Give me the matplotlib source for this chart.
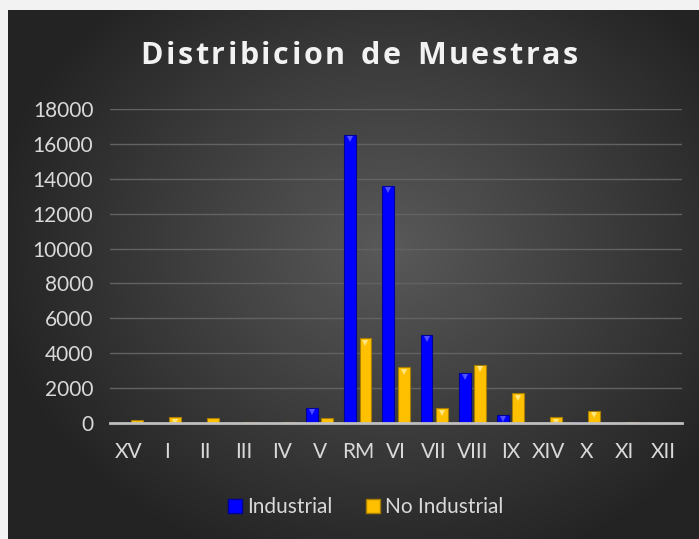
import numpy as np
import matplotlib
matplotlib.use("Agg")
import matplotlib.pyplot as plt
import matplotlib.transforms as mtransforms
from matplotlib.lines import Line2D

# data
regiones = ["XV", "I", "II", "III", "IV", "V", "RM", "VI", "VII", "VIII", "IX", "XIV", "X", "XI", "XII"]
industrial = [0, 0, 0, 0, 0, 880, 16500, 13600, 5030, 2860, 460, 0, 30, 0, 0]
no_industrial = [170, 320, 270, 30, 40, 300, 4850, 3190, 840, 3320, 1700, 320, 690, 30, 10]
yticks = [0, 2000, 4000, 6000, 8000, 10000, 12000, 14000, 16000, 18000]
titulo = "Distribicion de Muestras"

W, H = 699, 539
fig = plt.figure(figsize=(W / 100, H / 100), dpi=100, facecolor="#f2f2f2")

# radial gradient background of the chart area
bg = fig.add_axes([8 / W, 0, 1 - 8 / W, 1 - 10 / H])
bg.set_axis_off()
gx, gy = np.meshgrid(np.linspace(-1, 1, 400), np.linspace(-1, 1, 300))
r = np.sqrt(((gx - 0.1) / 1.1) ** 2 + ((gy + 0.1) / 1.2) ** 2)
shade = np.clip(0.35 - 0.2 * r, 0.14, 0.35)
bg.imshow(np.dstack([shade] * 3), aspect="auto", extent=[0, 1, 0, 1], interpolation="bilinear")

# main axes
ax = fig.add_axes([110 / W, (H - 423) / H, 572 / W, 314 / H])
ax.patch.set_alpha(0)
x = np.arange(len(regiones))
w = 0.31
ax.bar(x - 0.2, industrial, w, color="#0000ff", edgecolor="#00009a", linewidth=0.8, zorder=3)
ax.bar(x + 0.2, no_industrial, w, color="#ffc000", edgecolor="#a87e00", linewidth=0.8, zorder=3)

# bevel triangles on top of the bars
off = mtransforms.offset_copy(ax.transData, fig=fig, x=0, y=-3, units="points")
ind = np.array(industrial)
noi = np.array(no_industrial)
ax.plot(x[ind > 300] - 0.2, ind[ind > 300], "v", ms=5, color="#5050ff", mew=0, transform=off, zorder=4)
ax.plot(x[noi > 300] + 0.2, noi[noi > 300], "v", ms=5, color="#ffe680", mew=0, transform=off, zorder=4)

ax.set_xlim(-0.5, len(regiones) - 0.5)
ax.set_ylim(0, 18000)
ax.set_yticks(yticks)
ax.set_xticks(x)
ax.set_xticklabels(regiones)
ax.grid(axis="y", color="#626262", linewidth=1, zorder=0)
ax.set_axisbelow(True)
for s in ["top", "right", "left"]:
    ax.spines[s].set_visible(False)
ax.spines["bottom"].set_color("#bfbfbf")
ax.spines["bottom"].set_linewidth(2)
ax.spines["bottom"].set_zorder(5)
ax.tick_params(length=0, colors="#d9d9d9", labelsize=15, pad=12)
ax.tick_params(axis="x", pad=14)
for lbl in ax.get_xticklabels() + ax.get_yticklabels():
    lbl.set_fontfamily("Lato")

# title with extra letter spacing, one character at a time
renderer = fig.canvas.get_renderer()
tkw = dict(fontsize=22, fontweight="bold", color="#f2f2f2", family="Open Sans", va="center", ha="left")
gap = 2.6  # px between letters
anchos = []
for ch in titulo:
    t = fig.text(0, 0, ch if ch != " " else "n", **tkw)
    bb = t.get_window_extent(renderer)
    anchos.append(bb.width * (0.55 if ch == " " else 1))
    t.remove()
total = sum(anchos) + gap * (len(titulo) - 1)
xpos = 359 - total / 2
for ch, aw in zip(titulo, anchos):
    if ch != " ":
        fig.text(xpos / W, 1 - 56 / H, ch, **tkw)
    xpos += aw + gap

handles = [Line2D([], [], marker="s", ls="", ms=10, color="#0000ff", mec="#00009a"),
           Line2D([], [], marker="s", ls="", ms=10, color="#ffc000", mec="#a87e00")]
fig.legend(handles, ["Industrial", "No Industrial"], loc="center", bbox_to_anchor=(364 / W, 1 - 507 / H),
           ncol=2, frameon=False, prop={"family": "Lato", "size": 15}, labelcolor="#d9d9d9",
           handletextpad=0.1, columnspacing=1.4, handlelength=1)

fig.savefig("out.png", dpi=100, facecolor=fig.get_facecolor())
